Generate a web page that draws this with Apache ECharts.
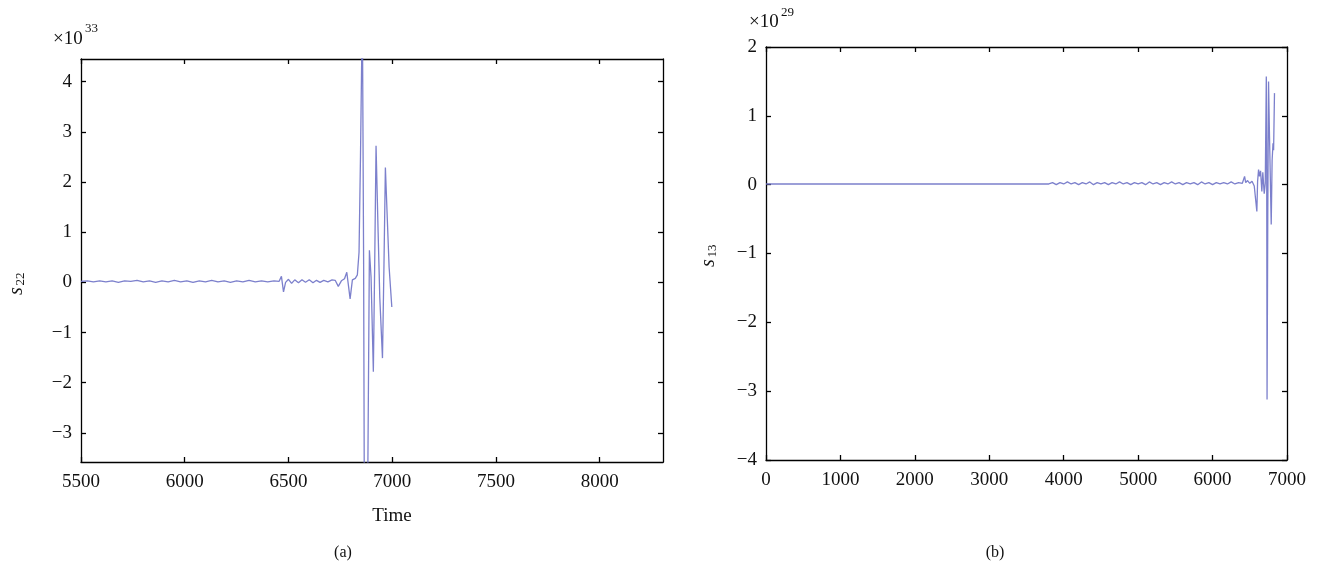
<!DOCTYPE html>
<html>
<head>
<meta charset="utf-8">
<script src="https://cdn.jsdelivr.net/npm/echarts@6.0.0/dist/echarts.min.js"></script>
<style>
html,body{margin:0;padding:0;background:#fff;}
#chart{width:1327px;height:571px;}
</style>
</head>
<body>
<div id="chart"></div>
<script>
// (a) s22 over time, values in units of 1e33
var s22Time = [5500,5530,5560,5590,5620,5650,5680,5710,5740,5770,5800,5830,5860,5890,5920,5950,5980,
	6010,6040,6070,6100,6130,6160,6190,6220,6250,6280,6310,6340,6370,6400,6430,6455,6466,6476,6486,
	6500,6515,6530,6548,6565,6582,6600,6618,6635,6652,6670,6690,6710,6725,6740,6755,6770,6781,6797,
	6808,6822,6832,6840,6847,6856,6862,6866,6876,6882,6890,6898,6909,6915,6922,6932,6940,6953,6960,
	6967,6975,6985,6998];
var s22Value = [0.02,0.03,0.01,0.03,0.01,0.03,0.00,0.03,0.02,0.04,0.01,0.03,0.00,0.03,0.01,0.04,0.01,
	0.03,0.00,0.03,0.01,0.04,0.01,0.03,0.00,0.03,0.01,0.04,0.01,0.03,0.01,0.03,0.02,0.12,-0.19,0.00,
	0.06,-0.02,0.05,-0.01,0.05,0.00,0.05,-0.01,0.04,0.00,0.04,0.01,0.05,0.04,-0.08,0.03,0.07,0.20,-0.33,
	0.05,0.08,0.15,0.60,2.50,5.50,0.50,-5.00,-5.00,-4.00,0.64,0.10,-1.78,0.20,2.72,1.00,-0.30,-1.51,0.30,
	2.29,1.40,0.30,-0.49];
// (b) s13 over time, values in units of 1e29
var s13Time = [0,3800,3850,3900,3950,4000,4050,4100,4150,4200,4250,4300,4350,4400,4450,4500,4550,4600,
	4650,4700,4750,4800,4850,4900,4950,5000,5050,5100,5150,5200,5250,5300,5350,5400,5450,5500,5550,
	5600,5650,5700,5750,5800,5850,5900,5950,6000,6050,6100,6150,6200,6250,6300,6350,6400,6430,6445,
	6470,6500,6530,6560,6580,6595,6605,6618,6630,6645,6662,6675,6694,6708,6722,6727,6732,6742,6752,
	6765,6788,6800,6812,6820,6832];
var s13Value = [0.01,0.01,0.03,0.00,0.03,0.01,0.04,0.01,0.03,0.00,0.03,0.01,0.04,0.00,0.03,0.01,0.03,0.00,
	0.03,0.01,0.04,0.01,0.03,0.00,0.03,0.01,0.03,0.00,0.04,0.01,0.03,0.00,0.03,0.01,0.04,0.01,0.03,
	0.00,0.03,0.01,0.03,0.00,0.04,0.01,0.03,0.00,0.03,0.01,0.03,0.01,0.04,0.01,0.03,0.02,0.12,0.03,
	0.06,0.02,0.05,-0.02,0.00,-0.39,0.05,0.22,0.12,0.20,-0.10,0.18,-0.13,0.02,1.57,0.60,-3.12,-0.40,1.50,
	0.70,-0.58,0.35,0.60,0.50,1.33];
// tick labels
var s22TicksX = [5500,6000,6500,7000,7500,8000];
var s22TicksY = [-3,-2,-1,0,1,2,3,4];
var s13TicksX = [0,1000,2000,3000,4000,5000,6000,7000];
var s13TicksY = [-4,-3,-2,-1,0,1,2];

var serif = '"Liberation Serif","DejaVu Serif",serif';
var lineColor = '#6e72c6';

function pairs(xs, ys){
	var out = [];
	for(var i=0;i<xs.length;i++){
		out.push([xs[i], ys[i]]);
	}
	return out;
}
function minusSign(v){
	return String(v).replace('-', '\u2212');
}
//one axis, mirror axes have no labels
function makeAxis(gridIndex, position, min, max, ticks, showLabel, margin){
	return {
		type:'value', gridIndex:gridIndex, position:position, min:min, max:max,
		axisLine:{show:true, onZero:false, lineStyle:{color:'#000', width:1.3}},
		axisTick:{show:true, inside:true, length:5, customValues:ticks, lineStyle:{color:'#000', width:1.3}},
		axisLabel:{show:showLabel, customValues:ticks, margin:margin || 9, color:'#111',
			fontFamily:serif, fontSize:19, formatter:minusSign},
		splitLine:{show:false}
	};
}
function label(x, y, text, size, italic, rotate, align){
	return {
		type:'text', x:x, y:y, rotation:rotate ? Math.PI/2 : 0,
		style:{text:text, fill:'#111', font:(italic ? 'italic ' : '') + size + 'px ' + serif,
			textAlign:align || 'center', textVerticalAlign:'middle'}
	};
}

var chart = echarts.init(document.getElementById('chart'));
var option = {
	animation:false,
	backgroundColor:'#fff',
	grid:[
		{left:81, top:59, width:582, height:403},
		{left:766, top:47, width:521, height:413}
	],
	xAxis:[
		makeAxis(0, 'bottom', 5500, 8305, s22TicksX, true, 11),
		makeAxis(0, 'top', 5500, 8305, s22TicksX, false),
		makeAxis(1, 'bottom', 0, 7000, s13TicksX, true, 11),
		makeAxis(1, 'top', 0, 7000, s13TicksX, false)
	],
	yAxis:[
		makeAxis(0, 'left', -3.58, 4.45, s22TicksY, true),
		makeAxis(0, 'right', -3.58, 4.45, s22TicksY, false),
		makeAxis(1, 'left', -4, 2, s13TicksY, true),
		makeAxis(1, 'right', -4, 2, s13TicksY, false)
	],
	series:[
		{type:'line', xAxisIndex:0, yAxisIndex:0, data:pairs(s22Time, s22Value), showSymbol:false,
			clip:true, lineStyle:{color:lineColor, width:1.3, opacity:0.9}},
		{type:'line', xAxisIndex:2, yAxisIndex:2, data:pairs(s13Time, s13Value), showSymbol:false,
			clip:true, lineStyle:{color:lineColor, width:1.3, opacity:0.9}}
	],
	graphic:[
		label(53, 39, '\u00d710', 19, false, false, 'left'),
		label(85, 29, '33', 13, false, false, 'left'),
		label(749, 22, '\u00d710', 19, false, false, 'left'),
		label(781, 13, '29', 13, false, false, 'left'),
		label(17, 291, 's', 20, true, true),
		label(21, 279, '22', 13, false, true),
		label(709, 263, 's', 20, true, true),
		label(713, 251, '13', 13, false, true),
		label(392, 516, 'Time', 19, false, false),
		label(343, 553, '(a)', 16, false, false),
		label(995, 553, '(b)', 16, false, false)
	]
};
chart.setOption(option);
</script>
</body>
</html>
